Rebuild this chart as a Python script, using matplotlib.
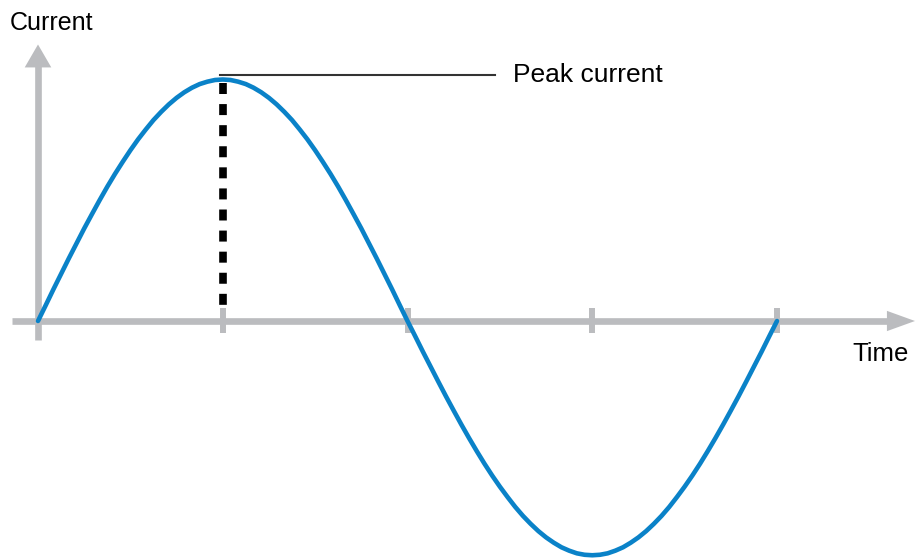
import numpy as np
import matplotlib.pyplot as plt

# Curve samples (every 1/24 of a time unit, 0..4)
rise = [0.0, 0.065, 0.131, 0.195, 0.259, 0.321, 0.383, 0.442, 0.500, 0.556, 0.609, 0.659,
        0.707, 0.752, 0.793, 0.832, 0.866, 0.897, 0.924, 0.947, 0.966, 0.981, 0.991, 0.998, 1.0]
fall = [0.998, 0.991, 0.981, 0.966, 0.947, 0.924, 0.897, 0.866, 0.832, 0.793, 0.752, 0.707,
        0.659, 0.609, 0.556, 0.500, 0.442, 0.383, 0.321, 0.259, 0.195, 0.131, 0.065, 0.0]
dip = [-0.063, -0.127, -0.189, -0.251, -0.312, -0.371, -0.429, -0.485, -0.539, -0.591, -0.640,
       -0.686, -0.729, -0.770, -0.807, -0.840, -0.870, -0.896, -0.918, -0.937, -0.951, -0.962,
       -0.968, -0.970, -0.968, -0.962, -0.951, -0.937, -0.918, -0.896, -0.870, -0.840, -0.807,
       -0.770, -0.729, -0.686, -0.640, -0.591, -0.539, -0.485, -0.429, -0.371, -0.312, -0.251,
       -0.189, -0.127, -0.063, 0.0]
current = rise + fall + dip
time = np.linspace(0, 4, len(current))

tick_positions = [1, 2, 3, 4]
peak_time = 1

GRAY = "#bbbcbf"
BLUE = "#0a82c8"

plt.rcParams["font.family"] = ["Liberation Sans", "DejaVu Sans"]

fig = plt.figure(figsize=(9.22, 5.59), dpi=100)
ax = fig.add_axes([0, 0, 1, 1])
ax.set_xlim(-38 / 184.75, 884 / 184.75)
ax.set_ylim(-238 / 241.5, 321 / 241.5)
ax.axis("off")

# axes with arrow heads
ax.plot([0, 0], [-0.079, 1.06], color=GRAY, lw=4.8, solid_capstyle="butt", zorder=1)
ax.fill([-0.072, 0.072, 0], [1.05, 1.05, 1.145], color=GRAY, lw=0, zorder=1)
ax.plot([-0.141, 4.6], [0, 0], color=GRAY, lw=4.8, solid_capstyle="butt", zorder=1)
ax.fill([4.595, 4.595, 4.747], [-0.042, 0.042, 0], color=GRAY, lw=0, zorder=1)
for t in tick_positions:
    ax.plot([t, t], [-0.05, 0.054], color=GRAY, lw=4.3, solid_capstyle="butt", zorder=1)

# peak marker
ax.plot([peak_time, peak_time], [0.9855, 0.064], color="black", lw=5.5,
        linestyle=(0, (1.44, 1.32)), dash_capstyle="butt", zorder=2)
ax.plot([peak_time - 0.014, 2.474], [1.019, 1.019], color="#333333", lw=1.5, zorder=2)

# the current curve
ax.plot(time, current, color=BLUE, lw=3.3, solid_capstyle="round",
        solid_joinstyle="round", zorder=3)

ax.text(2.57, 1.019, "Peak current", fontsize=19, va="center", ha="left")
ax.text(4.41, -0.137, "Time", fontsize=18.5, va="center", ha="left")
ax.text(-0.152, 1.235, "Current", fontsize=18, va="center", ha="left")

fig.savefig("out.png", dpi=100)
